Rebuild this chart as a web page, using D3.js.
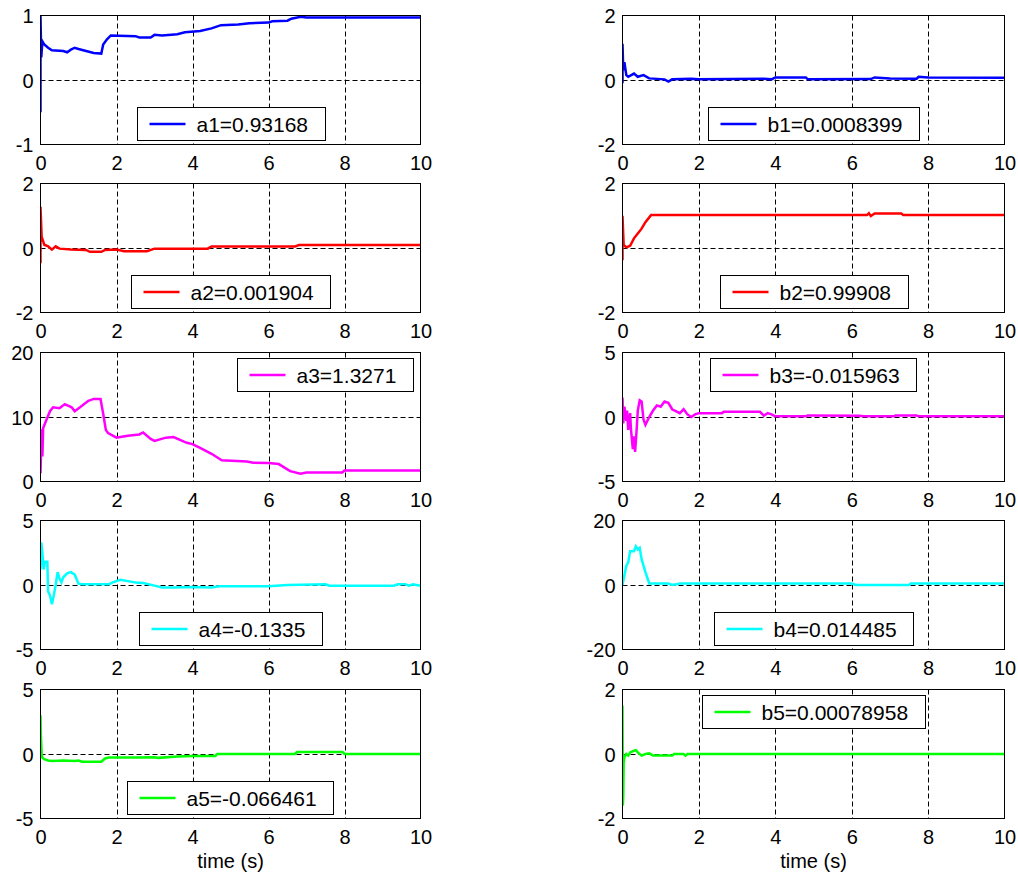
<!DOCTYPE html>
<html>
<head>
<meta charset="utf-8">
<script src="https://cdn.jsdelivr.net/npm/d3@7"></script>
<style>
  html, body { margin: 0; padding: 0; background: #fff; }
  svg { display: block; }
  text { font-family: "Liberation Sans", Arial, sans-serif; fill: #000; }
</style>
</head>
<body>
<svg id="fig" width="1018" height="876"></svg>
<script>
// Time axis shared by every panel
const xTicks = [0, 2, 4, 6, 8, 10];

// Parameter estimate traces, [time (s), value]
const a1 = [[0,-0.5],[0,1],[0.02,0.35],[0.05,0.6],[0.1,0.55],[0.2,0.5],[0.3,0.46],[0.6,0.45],[0.7,0.43],[0.8,0.47],[0.9,0.5],[1.0,0.48],[1.2,0.45],[1.4,0.42],[1.6,0.41],[1.65,0.55],[1.75,0.63],[1.85,0.69],[2.5,0.68],[2.6,0.66],[2.9,0.66],[3.0,0.7],[3.2,0.69],[3.6,0.71],[3.8,0.74],[4.2,0.76],[4.5,0.8],[4.75,0.85],[5.2,0.86],[5.5,0.88],[6.0,0.89],[6.1,0.91],[6.5,0.92],[6.6,0.95],[6.85,0.98],[7.0,0.97],[10,0.97]];
const b1 = [[0,-0.1],[0,1.12],[0.02,0.3],[0.05,0.55],[0.1,0.15],[0.15,0.1],[0.3,0.2],[0.4,0.1],[0.55,0.15],[0.7,0.05],[1.1,0.02],[1.2,-0.05],[1.3,0.02],[1.8,0.04],[2.0,0.02],[3.7,0.04],[3.9,0.02],[4.0,0.08],[4.8,0.08],[4.85,0.02],[6.5,0.03],[6.6,0.08],[7.0,0.05],[7.7,0.04],[7.75,0.1],[8.0,0.08],[10,0.07]];
const a2 = [[0,-0.47],[0,1.28],[0.03,0.35],[0.1,0.1],[0.2,0.05],[0.3,-0.05],[0.4,0.05],[0.5,-0.02],[0.8,-0.05],[1.2,-0.06],[1.3,-0.12],[1.6,-0.12],[1.7,-0.06],[2.0,-0.05],[2.2,-0.1],[2.8,-0.1],[3.0,-0.02],[4.4,-0.02],[4.5,0.05],[6.7,0.05],[6.8,0.09],[10,0.09]];
const b2 = [[0,-0.38],[0,1.0],[0.03,0.1],[0.1,0.02],[0.2,0.07],[0.3,0.3],[0.4,0.45],[0.5,0.6],[0.6,0.8],[0.7,0.95],[0.75,1.02],[6.4,1.02],[6.45,1.08],[6.5,0.99],[6.6,1.07],[7.3,1.07],[7.35,1.02],[10,1.02]];
const a3 = [[0,1.3],[0.03,8.1],[0.05,3.9],[0.07,8.3],[0.16,9.6],[0.25,10.9],[0.33,11.5],[0.5,11.35],[0.64,12],[0.82,11.5],[0.9,10.9],[1.04,11.5],[1.26,12.5],[1.4,12.8],[1.58,12.8],[1.65,10.5],[1.72,8.0],[1.78,7.5],[2.0,6.8],[2.1,6.9],[2.3,7.1],[2.6,7.3],[2.7,7.6],[2.9,6.6],[3.0,6.3],[3.3,6.8],[3.5,6.9],[3.85,6.0],[4.0,5.8],[4.2,5.2],[4.5,4.3],[4.77,3.3],[5.43,3.1],[5.6,2.9],[6.0,2.85],[6.27,2.7],[6.57,1.6],[6.84,1.2],[7.0,1.4],[7.94,1.4],[8.0,1.7],[10,1.7]];
const b3 = [[0,1.5],[0.02,-0.5],[0.05,0.8],[0.1,-0.3],[0.12,0.5],[0.15,-1.0],[0.2,0.3],[0.22,-0.9],[0.27,-2.5],[0.3,-1.5],[0.33,-2.7],[0.37,-1.0],[0.4,0.5],[0.45,1.3],[0.5,1.2],[0.55,-0.2],[0.6,-0.6],[0.7,0.0],[0.8,0.5],[0.9,0.9],[1.0,0.8],[1.1,1.2],[1.2,1.1],[1.3,0.6],[1.5,0.3],[1.6,0.6],[1.7,0.2],[1.8,0.0],[1.9,0.2],[2.0,0.3],[2.6,0.3],[2.65,0.4],[3.6,0.4],[3.7,0.1],[3.8,0.3],[3.9,0.2],[4.0,0.05],[4.8,0.05],[4.85,0.12],[6.2,0.1],[6.3,0.05],[7.1,0.05],[7.15,0.12],[7.7,0.12],[7.75,0.05],[10,0.05]];
const a4 = [[0,1.2],[0.02,3.3],[0.05,2.5],[0.08,1.2],[0.12,1.8],[0.18,1.8],[0.2,-0.5],[0.25,-0.8],[0.3,-1.5],[0.35,-0.8],[0.4,0.0],[0.45,1.0],[0.5,0.5],[0.55,0.2],[0.6,0.6],[0.7,0.9],[0.8,1.0],[0.9,0.8],[1.0,0.1],[1.1,0.05],[1.8,0.05],[1.9,0.2],[2.1,0.4],[2.3,0.3],[2.5,0.2],[2.7,0.15],[3.0,-0.05],[3.2,-0.2],[3.5,-0.2],[4.0,-0.15],[4.5,-0.2],[4.7,-0.1],[6.0,-0.1],[6.5,0.0],[7.5,0.05],[7.6,-0.05],[9.3,-0.05],[9.4,0.05],[9.6,0.05],[9.7,-0.05],[9.8,0.05],[10,-0.05]];
const b4 = [[0,0],[0.05,3],[0.1,6],[0.15,7],[0.2,10.5],[0.3,10.5],[0.35,12],[0.4,11],[0.45,11.5],[0.5,8],[0.6,4],[0.7,0.5],[1.2,0.5],[1.3,0],[1.45,0.3],[1.5,0.5],[6.0,0.5],[6.1,0],[7.5,0],[7.55,0.5],[10,0.5]];
const a5 = [[0,3.0],[0.01,1.5],[0.03,0],[0.05,-0.3],[0.1,-0.4],[0.2,-0.5],[0.3,-0.55],[0.6,-0.5],[0.9,-0.55],[1.0,-0.5],[1.1,-0.6],[1.6,-0.6],[1.7,-0.35],[1.8,-0.28],[2.5,-0.28],[3.0,-0.25],[3.1,-0.3],[3.6,-0.2],[4.0,-0.15],[4.6,-0.15],[4.65,0],[6.7,0],[6.75,0.15],[7.95,0.15],[8.0,0],[10,0]];
const b5 = [[0,1.5],[0.01,-1.6],[0.02,-1.3],[0.03,-0.3],[0.05,-0.1],[0.1,0.0],[0.15,-0.05],[0.2,0.05],[0.3,0.1],[0.35,0.12],[0.4,0.05],[0.5,-0.05],[0.6,0.0],[0.7,0.02],[0.8,-0.05],[1.3,-0.05],[1.35,0.0],[1.6,0.0],[1.65,-0.05],[1.7,0.0],[10,0.0]];

// Y tick values per panel
const aTicks = [[-1,0,1],[-2,0,2],[0,10,20],[-5,0,5],[-5,0,5]];
const bTicks = [[-2,0,2],[-2,0,2],[-5,0,5],[-20,0,20],[-2,0,2]];

// Legend entries
const aLabels = ["a1=0.93168","a2=0.001904","a3=1.3271","a4=-0.1335","a5=-0.066461"];
const bLabels = ["b1=0.0008399","b2=0.99908","b3=-0.015963","b4=0.014485","b5=0.00078958"];

const lineColors = ["#0000ff","#ff0000","#ff00ff","#00ffff","#00ff00"];
const aSeries = [a1, a2, a3, a4, a5];
const bSeries = [b1, b2, b3, b4, b5];

// Legend placement inside each axes
const aLegendLoc = ["S","S","NE","S","S"];
const bLegendLoc = ["S","S","N","S","N"];

// Figure layout
const colX = [[40.5, 420.5], [622.5, 1004.5]];
const rowTop = [15.5, 183.5, 352.5, 520.5, 689.5];
const axH = 129;

const svg = d3.select("#fig");
const plainNum = d => String(d);   // ASCII hyphen for negatives

function drawPanel(col, row, data, yTicks, label, color, loc) {
  const [x0, x1] = colX[col];
  const y0 = rowTop[row], y1 = y0 + axH;
  const x = d3.scaleLinear().domain([0, 10]).range([x0, x1]);
  const y = d3.scaleLinear().domain([yTicks[0], yTicks[yTicks.length - 1]]).range([y1, y0]);
  const g = svg.append("g");
  const clipId = `clip-${col}-${row}`;
  svg.append("clipPath").attr("id", clipId)
    .append("rect").attr("x", x0).attr("y", y0 - 1).attr("width", x1 - x0).attr("height", axH + 2);

  // dashed grid
  g.append("g").selectAll("line").data(xTicks.slice(1, -1)).join("line")
    .attr("x1", d => Math.round(x(d)) + 0.5).attr("x2", d => Math.round(x(d)) + 0.5)
    .attr("y1", y0).attr("y2", y1)
    .attr("stroke", "#000").attr("stroke-width", 1).attr("stroke-dasharray", "5,3");
  g.append("g").selectAll("line").data(yTicks.slice(1, -1)).join("line")
    .attr("y1", d => Math.round(y(d)) + 0.5).attr("y2", d => Math.round(y(d)) + 0.5)
    .attr("x1", x0).attr("x2", x1)
    .attr("stroke", "#000").attr("stroke-width", 1).attr("stroke-dasharray", "5,3");

  // trace
  const line = d3.line().x(d => x(d[0])).y(d => y(d[1]));
  g.append("path").datum(data)
    .attr("clip-path", `url(#${clipId})`)
    .attr("d", line).attr("fill", "none")
    .attr("stroke", color).attr("stroke-width", 2.5).attr("stroke-linejoin", "miter");

  // axes box
  g.append("rect").attr("x", x0).attr("y", y0).attr("width", x1 - x0).attr("height", axH)
    .attr("fill", "none").attr("stroke", "#000").attr("stroke-width", 1);

  // tick labels via d3 axes (tick lines hidden)
  const xAxis = d3.axisBottom(x).tickValues(xTicks).tickSize(0).tickPadding(0).tickFormat(plainNum);
  const xa = g.append("g").attr("transform", `translate(0,${y1})`).call(xAxis);
  xa.select(".domain").remove();
  xa.selectAll("text").attr("font-size", 20).attr("font-family", "Liberation Sans, Arial, sans-serif")
    .attr("fill", "#000").attr("dy", null).attr("y", 25);

  const yAxis = d3.axisLeft(y).tickValues(yTicks).tickSize(0).tickPadding(0).tickFormat(plainNum);
  const ya = g.append("g").attr("transform", `translate(${x0 - 7},0)`).call(yAxis);
  ya.select(".domain").remove();
  ya.selectAll("text").attr("font-size", 20).attr("font-family", "Liberation Sans, Arial, sans-serif")
    .attr("fill", "#000").attr("dy", "0.35em");

  // legend
  const lg = g.append("g");
  const txt = lg.append("text").attr("font-size", 21).text(label);
  const tw = txt.node().getComputedTextLength();
  const padL = 12, sample = 36, gap = 11, padR = 17, lh = 33;
  const lw = padL + sample + gap + tw + padR;
  let lx, ly;
  const cx = (x0 + x1) / 2;
  if (loc === "S") { lx = cx - lw / 2; ly = y1 - 5 - lh; }
  else if (loc === "N") { lx = cx - lw / 2; ly = y0 + 5; }
  else { lx = x1 - 7.5 - lw; ly = y0 + 5; }
  lx = Math.round(lx) + 0.5; ly = Math.round(ly) + 0.5;
  lg.insert("rect", "text").attr("x", lx).attr("y", ly).attr("width", Math.round(lw)).attr("height", lh)
    .attr("fill", "#fff").attr("stroke", "#000").attr("stroke-width", 1);
  lg.append("line").attr("x1", lx + padL).attr("x2", lx + padL + sample)
    .attr("y1", ly + lh / 2).attr("y2", ly + lh / 2)
    .attr("stroke", color).attr("stroke-width", 2.5);
  txt.attr("x", lx + padL + sample + gap).attr("y", ly + lh / 2).attr("dy", "0.36em");

  if (row === 4) {
    g.append("text").attr("x", cx).attr("y", 868).attr("text-anchor", "middle")
      .attr("font-size", 20).text("time (s)");
  }
}

for (let i = 0; i < 5; i++) {
  drawPanel(0, i, aSeries[i], aTicks[i], aLabels[i], lineColors[i], aLegendLoc[i]);
  drawPanel(1, i, bSeries[i], bTicks[i], bLabels[i], lineColors[i], bLegendLoc[i]);
}
</script>
</body>
</html>
